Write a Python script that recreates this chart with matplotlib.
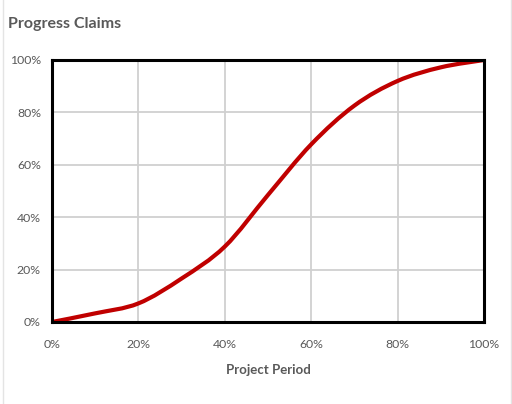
import matplotlib
matplotlib.use('Agg')
import matplotlib.pyplot as plt
from matplotlib.lines import Line2D
from matplotlib.path import Path
from matplotlib.patches import PathPatch
from matplotlib.ticker import PercentFormatter

# project period vs cumulative progress claims (percent)
period = [0, 10, 20, 30, 40, 50, 60, 70, 80, 90, 100]
claims = [0, 3.3, 7.1, 16.6, 28.8, 48.5, 67.8, 82.6, 92.0, 97.2, 100]

ticks = [0, 20, 40, 60, 80, 100]


def smooth_path(xs, ys, t=1/6):
    # cubic bezier segments through the points (catmull-rom tangents), like a smoothed line
    verts = [(xs[0], ys[0])]
    codes = [Path.MOVETO]
    n = len(xs)
    for i in range(n - 1):
        x0, y0 = xs[max(i - 1, 0)], ys[max(i - 1, 0)]
        x1, y1 = xs[i], ys[i]
        x2, y2 = xs[i + 1], ys[i + 1]
        x3, y3 = xs[min(i + 2, n - 1)], ys[min(i + 2, n - 1)]
        verts += [(x1 + (x2 - x0) * t, y1 + (y2 - y0) * t),
                  (x2 - (x3 - x1) * t, y2 - (y3 - y1) * t),
                  (x2, y2)]
        codes += [Path.CURVE4] * 3
    return Path(verts, codes)


plt.rcParams['font.family'] = ['Lato', 'DejaVu Sans']
txt = '#595959'

fig = plt.figure(figsize=(5.12, 4.04), dpi=100)
ax = fig.add_axes([52/512, 82/404, 432/512, 262/404])

ax.add_patch(PathPatch(smooth_path(period, claims), facecolor='none', edgecolor='#C00000',
                       lw=3.0, capstyle='round', joinstyle='round', zorder=3))

ax.set_xlim(0, 100)
ax.set_ylim(0, 100)
ax.set_xticks(ticks)
ax.set_yticks(ticks)
ax.xaxis.set_major_formatter(PercentFormatter(decimals=0))
ax.yaxis.set_major_formatter(PercentFormatter(decimals=0))
ax.grid(True, color='#D0D0D0', lw=1.3)
ax.set_axisbelow(True)
for s in ax.spines.values():
    s.set_linewidth(2.2)
    s.set_color('black')
    s.set_zorder(4)
ax.tick_params(length=0, labelsize=8.8, colors=txt, pad=8)
ax.tick_params(axis='x', pad=12)

ax.set_xlabel('Project Period', fontsize=9.5, fontweight='bold', color=txt, labelpad=10)
fig.text(8/512, 1 - 24/404, 'Progress Claims', fontsize=11.5, fontweight='bold',
         color=txt, va='center', ha='left')

# light frame edges
fig.add_artist(Line2D([3/512, 3/512], [0, 1], transform=fig.transFigure, color='#E4E4E4', lw=1))
fig.add_artist(Line2D([510.5/512, 510.5/512], [0, 1], transform=fig.transFigure, color='#E4E4E4', lw=1))

fig.savefig('out.png', dpi=100)
